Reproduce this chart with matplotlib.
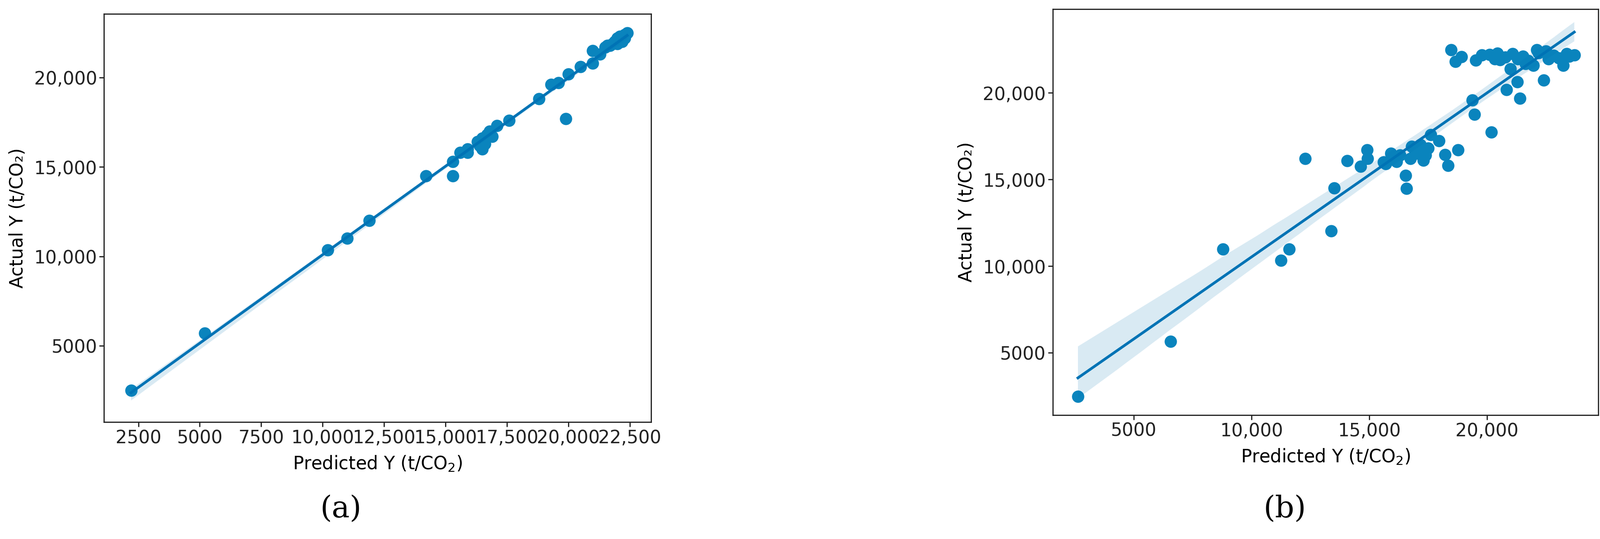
import matplotlib
matplotlib.use("Agg")
import matplotlib.pyplot as plt
import seaborn as sns
import numpy as np

a_pred = [2200,5200,10200,11000,11900,14200,15300,15300,15600,15900,15900,16300,16400,16500,16500,16600,16700,16800,16900,17100,17600,18800,19300,19600,19900,20000,20500,21000,21000,21300,21500,21600,21800,21900,22000,22100,22200,22300,22400,22000,22200,22300,21700,22100]
a_act  = [2500,5700,10350,11000,12000,14500,14500,15300,15800,15800,16000,16400,16200,16000,16600,16300,16800,17000,16700,17300,17600,18800,19600,19700,17700,20200,20600,20800,21500,21300,21700,21800,21900,22000,22200,22100,22300,22400,22500,21900,22000,22200,21800,22300]

b_pred = [2627,6567,8788,11248,11596,12271,13381,13512,14056,14622,14905,14927,15602,15907,16146,16538,16582,16734,16952,17169,17387,17605,17953,18214,18345,18759,18476,18650,18911,19368,19455,19520,19781,20173,20435,20827,20979,21284,21393,21632,21959,22111,22394,23221,23700,20544,20762,21088,21306,21523,21741,22176,22503,22612,22829,23047,23373,23482,20326,20108,17000,17300,17500,16800,15700,16300]
b_act  = [2490,5660,10976,10339,10976,16215,12032,14502,16076,15757,16693,16195,15996,16494,16036,15239,14482,16195,16593,16992,16394,17590,17231,16434,15797,16693,22470,21813,22072,19582,18745,21872,22171,17729,22271,20179,21375,20637,19681,21673,21574,22470,20737,21574,22171,21900,22050,22250,21950,22100,21850,22300,22400,21950,22150,22000,22250,22100,21950,22200,16500,16100,16800,16900,15900,16400]

COLOR = "#0a84bd"
LINE = "#0073b5"

fig = plt.figure(figsize=(36.96, 12.44), dpi=100)
ax1 = fig.add_axes([0.065, 0.217, 0.342, 0.757])
ax2 = fig.add_axes([0.658, 0.23, 0.341, 0.753])

for ax, xp, ya, xlim, ylim, xt in [
    (ax1, a_pred, a_act, (1101, 23377), (733, 23552), [2500,5000,7500,10000,12500,15000,17500,20000,22500]),
    (ax2, b_pred, b_act, (1560, 24724), (1414, 24821), [5000,10000,15000,20000]),
]:
    sns.regplot(x=np.array(xp), y=np.array(ya), ax=ax, ci=95,
                scatter_kws=dict(s=420, color=COLOR, alpha=1, linewidths=0),
                line_kws=dict(color=LINE, lw=4.5), color=LINE)
    ax.set_xlim(*xlim); ax.set_ylim(*ylim)
    ax.set_xticks(xt)
    ax.set_yticks([5000,10000,15000,20000])
    fmt = lambda v: f"{int(v)}" if v < 10000 else f"{int(v):,}"
    ax.set_xticklabels([fmt(v) for v in xt])
    ax.set_yticklabels([fmt(v) for v in [5000,10000,15000,20000]])
    ax.tick_params(labelsize=30, width=2, length=8, colors="#222222")
    for s in ax.spines.values():
        s.set_linewidth(2); s.set_color("#222222")
    ax.set_xlabel(r"Predicted Y (t/CO$_2$)", fontsize=30, labelpad=12)
    ax.set_ylabel("Actual Y (t/CO₂)", fontsize=30, labelpad=12)

fig.text(0.213, 0.04, "(a)", fontsize=50, family="DejaVu Serif", ha="center")
fig.text(0.803, 0.04, "(b)", fontsize=50, family="DejaVu Serif", ha="center")
fig.savefig("out.png", dpi=100)
